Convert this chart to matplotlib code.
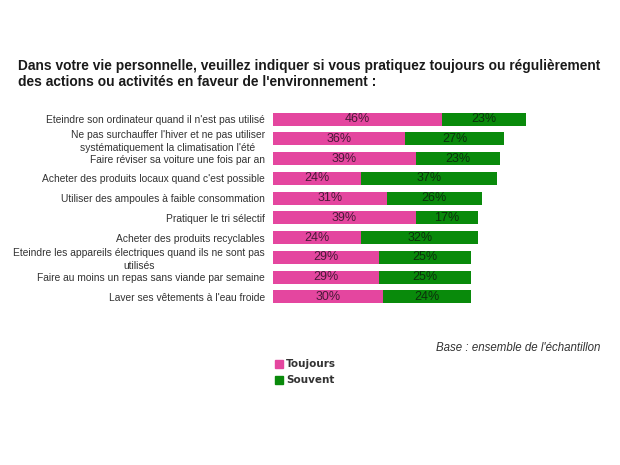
import matplotlib
matplotlib.use("Agg")
import matplotlib.pyplot as plt
from matplotlib.patches import Rectangle

categories = [
    "Eteindre son ordinateur quand il n'est pas utilisé",
    "Ne pas surchauffer l'hiver et ne pas utiliser\nsystématiquement la climatisation l'été",
    "Faire réviser sa voiture une fois par an",
    "Acheter des produits locaux quand c'est possible",
    "Utiliser des ampoules à faible consommation",
    "Pratiquer le tri sélectif",
    "Acheter des produits recyclables",
    "Eteindre les appareils électriques quand ils ne sont pas\nutilisés",
    "Faire au moins un repas sans viande par semaine",
    "Laver ses vêtements à l'eau froide",
]
toujours = [46, 36, 39, 24, 31, 39, 24, 29, 29, 30]
souvent = [23, 27, 23, 37, 26, 17, 32, 25, 25, 24]
series_names = ["Toujours", "Souvent"]

PINK = "#e4469f"
GREEN = "#098a0b"
FONT = "Liberation Sans"

fig = plt.figure(figsize=(6.2, 4.65), dpi=100)
fig.patch.set_facecolor("white")

ax = fig.add_axes([273 / 620, 1 - 306.6 / 465, 330 / 620, (306.6 - 109.4) / 465])
ypos = list(range(len(categories)))
h = 0.66
ax.barh(ypos, toujours, height=h, color=PINK, edgecolor="none")
ax.barh(ypos, souvent, left=toujours, height=h, color=GREEN, edgecolor="none")
for y, t, s in zip(ypos, toujours, souvent):
    ax.text(t / 2, y, f"{t}%", ha="center", va="center", fontsize=9,
            color="#4a1a38", family=FONT)
    ax.text(t + s / 2, y, f"{s}%", ha="center", va="center", fontsize=9,
            color="#0c300c", family=FONT)
ax.set_xlim(0, 90)
ax.set_ylim(len(categories) - 0.5, -0.5)
ax.set_yticks(ypos)
ax.set_yticklabels(categories, fontsize=7.4, color="#333333", family=FONT,
                   multialignment="center", linespacing=1.35)
ax.tick_params(axis="y", length=0, pad=6)
ax.set_xticks([])
for sp in ax.spines.values():
    sp.set_visible(False)

fig.text(18 / 620, 1 - 59 / 465,
         "Dans votre vie personnelle, veuillez indiquer si vous pratiquez toujours ou régulièrement\n"
         "des actions ou activités en faveur de l'environnement :",
         ha="left", va="top", fontsize=9.9, fontweight="bold", color="#1a1a1a",
         family=FONT, linespacing=1.15)

fig.text(600 / 620, 1 - 348 / 465, "Base : ensemble de l'échantillon",
         ha="right", va="center", fontsize=8.3, style="italic", color="#333333",
         family=FONT)

colors = [PINK, GREEN]
for i, (name, c) in enumerate(zip(series_names, colors)):
    yc = 1 - (364 + i * 16) / 465
    fig.patches.append(Rectangle((275 / 620, yc - 4 / 465), 8 / 620, 8 / 465,
                                 transform=fig.transFigure, color=c))
    fig.text(286 / 620, yc, name, ha="left", va="center", fontsize=7.5,
             fontweight="bold", color="#333333", family="DejaVu Sans")

fig.savefig("out.png", dpi=100, facecolor="white")
